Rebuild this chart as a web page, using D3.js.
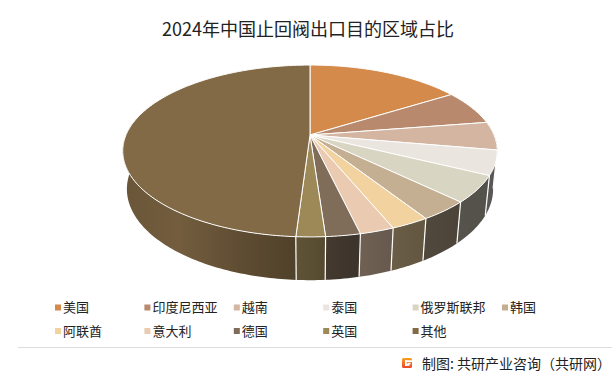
<!DOCTYPE html>
<html>
<head>
<meta charset="utf-8">
<script src="https://cdn.jsdelivr.net/npm/d3@7"></script>
<style>
  html, body { margin: 0; padding: 0; background: #fff; }
  svg { display: block; font-family: "Noto Sans CJK SC", "Noto Sans", sans-serif; }
</style>
</head>
<body>
<div id="chart"></div>
<script>
const categories = ["美国", "印度尼西亚", "越南", "泰国", "俄罗斯联邦", "韩国", "阿联酋", "意大利", "德国", "英国", "其他"];
const shares = [16.0, 6.5, 5.3, 4.6, 5.0, 3.7, 2.8, 2.5, 2.5, 2.1, 49.0];
const colors = ["#D38A4B", "#B8896C", "#D3B5A1", "#EBE5E0", "#D9D5C3", "#C4AF92",
                "#F2D39F", "#EACBB1", "#7F6C59", "#9D8858", "#836A46"];

const W = 612, H = 377;
const svg = d3.select("#chart").append("svg")
    .attr("width", W)
    .attr("height", H);

// title
svg.append("text")
    .attr("x", 308).attr("y", 36)
    .attr("text-anchor", "middle")
    .style("font-size", "18px")
    .style("fill", "#222")
    .text("2024年中国止回阀出口目的区域占比");

// 3d pie with a simple perspective projection
const cx = 310, cy = 135, R = 184, depth = 43;
const tilt = 26.8 * Math.PI / 180, sinA = Math.sin(tilt), cosA = Math.cos(tilt);
const focal = 883;

function proj(theta, h) {
    const x = R * Math.sin(theta), z = -R * Math.cos(theta);
    const Y = -h * cosA + z * sinA;
    const D = z * cosA + h * sinA;
    const s = focal / (focal - D);
    return [cx + x * s, cy + Y * s];
}

const pie = d3.pie().sort(null).value(d => d.value)
    .startAngle(0).endAngle(2 * Math.PI);
const arcs = pie(categories.map((c, i) => ({ name: c, value: shares[i], color: colors[i] })));

// side gradients, darker to the right
const defs = svg.append("defs");
const shade = [[0, 0.8], [0.15, 0.88], [0.32, 0.72], [0.45, 0.62], [0.5, 0.58],
               [0.58, 0.5], [0.67, 0.46], [0.77, 0.42], [0.9, 0.39], [1, 0.38]];
arcs.forEach((a, i) => {
    const g = defs.append("linearGradient")
        .attr("id", "side" + i)
        .attr("gradientUnits", "userSpaceOnUse")
        .attr("x1", cx - R * 1.02).attr("x2", cx + R * 1.02)
        .attr("y1", 0).attr("y2", 0);
    const c = d3.rgb(a.data.color);
    shade.forEach(([o, k]) => {
        g.append("stop")
            .attr("offset", o)
            .attr("stop-color", d3.rgb(c.r * k, c.g * k, c.b * k).formatHex());
    });
});

// side faces: only the front part of each slice, one path per slice
const lo = 80 * Math.PI / 180, hi = 280 * Math.PI / 180;
const sides = arcs.map((a, i) => ({
    i,
    t0: Math.max(a.startAngle, lo),
    t1: Math.min(a.endAngle, hi)
})).filter(d => d.t1 > d.t0)
  .sort((a, b) => -Math.cos((a.t0 + a.t1) / 2) - -Math.cos((b.t0 + b.t1) / 2));

const line = d3.line();
function sidePath(d) {
    const n = Math.max(2, Math.ceil((d.t1 - d.t0) / (Math.PI / 180)));
    const top = [], bot = [];
    for (let k = 0; k <= n; k++) {
        const t = d.t0 + (d.t1 - d.t0) * k / n;
        top.push(proj(t, 0));
        bot.push(proj(t, -depth));
    }
    return line(top.concat(bot.reverse())) + "Z";
}
svg.append("g").selectAll("path")
    .data(sides)
    .join("path")
    .attr("d", sidePath)
    .attr("fill", d => `url(#side${d.i})`);

// white edges between slices on the visible side
svg.append("g").selectAll("line")
    .data(arcs.filter(a => a.startAngle > Math.PI / 2 && a.startAngle < 1.5 * Math.PI))
    .join("line")
    .attr("x1", d => proj(d.startAngle, 0)[0])
    .attr("y1", d => proj(d.startAngle, 0)[1])
    .attr("x2", d => proj(d.startAngle, -depth)[0])
    .attr("y2", d => proj(d.startAngle, -depth)[1])
    .attr("stroke", "#fff")
    .attr("stroke-width", 1.2);

// top faces
function topPath(a) {
    const pts = [[cx, cy]];
    const n = Math.max(2, Math.ceil((a.endAngle - a.startAngle) / (Math.PI / 180)));
    for (let k = 0; k <= n; k++) {
        pts.push(proj(a.startAngle + (a.endAngle - a.startAngle) * k / n, 0));
    }
    return line(pts) + "Z";
}
svg.append("g").selectAll("path")
    .data(arcs)
    .join("path")
    .attr("d", topPath)
    .attr("fill", d => d.data.color)
    .attr("stroke", "#fff")
    .attr("stroke-width", 1)
    .attr("stroke-linejoin", "round");

// legend
const legend = svg.append("g").selectAll("g")
    .data(arcs)
    .join("g")
    .attr("transform", (d, i) => `translate(${55 + (i % 6) * 89.4},${307.5 + Math.floor(i / 6) * 23.5})`);
legend.append("rect")
    .attr("x", 0).attr("y", -3)
    .attr("width", 6).attr("height", 6)
    .attr("fill", d => d.data.color);
legend.append("text")
    .attr("x", 8).attr("y", 4.5)
    .style("font-size", "13px")
    .style("fill", "#222")
    .text(d => d.data.name);

// footer
svg.append("line")
    .attr("x1", 18).attr("x2", 612)
    .attr("y1", 347.5).attr("y2", 347.5)
    .attr("stroke", "#ddd")
    .attr("stroke-width", 1);

const logo = svg.append("g").attr("transform", "translate(402,358)");
const lg = defs.append("linearGradient").attr("id", "logo")
    .attr("x1", 0).attr("x2", 0).attr("y1", 0).attr("y2", 1);
lg.append("stop").attr("offset", 0).attr("stop-color", "#f7a021");
lg.append("stop").attr("offset", 1).attr("stop-color", "#e9462a");
logo.append("rect").attr("width", 10).attr("height", 10).attr("rx", 1.5).attr("fill", "url(#logo)");
logo.append("rect").attr("x", 3).attr("y", 2.2).attr("width", 7).attr("height", 1.8).attr("fill", "#fff");
logo.append("rect").attr("x", 3).attr("y", 2.2).attr("width", 1.8).attr("height", 5.6).attr("fill", "#fff");
logo.append("rect").attr("x", 3).attr("y", 6).attr("width", 4.5).attr("height", 1.8).attr("fill", "#fff");
logo.append("rect").attr("x", 5.5).attr("y", 4.8).attr("width", 3).attr("height", 1.5).attr("fill", "#fff");

svg.append("text")
    .attr("x", 611).attr("y", 368.5)
    .attr("text-anchor", "end")
    .style("font-size", "14px")
    .style("fill", "#222")
    .text("制图: 共研产业咨询（共研网）");
</script>
</body>
</html>
